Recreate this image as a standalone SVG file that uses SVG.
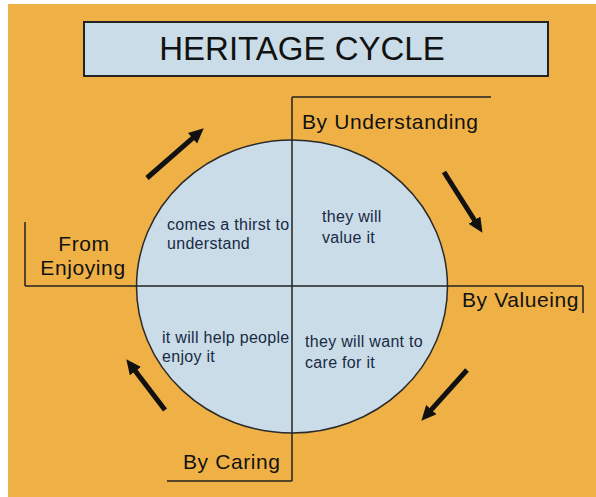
<svg xmlns="http://www.w3.org/2000/svg" width="596" height="497" viewBox="0 0 596 497">
  <defs>
    <style>
      .lbl { font-family: "Liberation Sans", Arial, sans-serif; font-size: 21px; fill: #111; letter-spacing: 0.6px; }
      .q { font-family: "Liberation Sans", Arial, sans-serif; font-size: 16px; fill: #1a2a44; letter-spacing: 0.3px; }
      .ttl { font-family: "Liberation Sans", Arial, sans-serif; font-size: 33px; fill: #111; }
      .ln { stroke: #222; stroke-width: 1.5; fill: none; }
      .arr { stroke: #111; stroke-width: 5; fill: none; marker-end: url(#ah); }
    </style>
    <marker id="ah" markerUnits="userSpaceOnUse" markerWidth="16" markerHeight="16" refX="4" refY="7" orient="auto">
      <path d="M0,0 L15,7 L0,14 z" fill="#111"/>
    </marker>
  </defs>
  <rect x="0" y="0" width="596" height="497" fill="#ffffff"/>
  <rect x="8" y="4" width="588" height="493" fill="#EFB145"/>

  <g id="title">
    <rect x="84" y="22" width="464" height="54" fill="#C9DCE8" stroke="#222" stroke-width="2"/>
    <text class="ttl" x="302" y="60" text-anchor="middle">HERITAGE CYCLE</text>
  </g>

  <g id="circle">
    <ellipse cx="292" cy="286.5" rx="155.5" ry="146.5" fill="#C9DCE8" stroke="#2a2a2a" stroke-width="1.5"/>
  </g>

  <g id="connectors">
    <line class="ln" x1="292" y1="97" x2="292" y2="481"/>
    <line class="ln" x1="292" y1="97" x2="491" y2="97"/>
    <line class="ln" x1="167" y1="481" x2="292" y2="481"/>
    <line class="ln" x1="25" y1="286" x2="583" y2="286"/>
    <line class="ln" x1="25" y1="222" x2="25" y2="286"/>
    <line class="ln" x1="583" y1="286" x2="583" y2="313"/>
    <line class="arr" x1="147" y1="178" x2="195.5" y2="135.6"/>
    <line class="arr" x1="444" y1="172" x2="476.6" y2="223.5"/>
    <line class="arr" x1="467" y1="370" x2="428.7" y2="412.6"/>
    <line class="arr" x1="165" y1="410" x2="133" y2="368"/>
  </g>

  <g id="by-understanding">
    <text class="lbl" x="302" y="129">By Understanding</text>
  </g>
  <g id="by-valueing">
    <text class="lbl" x="462" y="307">By Valueing</text>
  </g>
  <g id="by-caring">
    <text class="lbl" x="183" y="469">By Caring</text>
  </g>
  <g id="from-enjoying">
    <text class="lbl" x="84" y="251" text-anchor="middle">From</text>
    <text class="lbl" x="83" y="275" text-anchor="middle">Enjoying</text>
  </g>

  <g id="q-top-left">
    <text class="q" x="167" y="230">comes a thirst to</text>
    <text class="q" x="167" y="249">understand</text>
  </g>
  <g id="q-top-right">
    <text class="q" x="322" y="222">they will</text>
    <text class="q" x="322" y="243">value it</text>
  </g>
  <g id="q-bottom-left">
    <text class="q" x="162" y="343">it will help people</text>
    <text class="q" x="162" y="362">enjoy it</text>
  </g>
  <g id="q-bottom-right">
    <text class="q" x="305" y="347">they will want to</text>
    <text class="q" x="305" y="368">care for it</text>
  </g>
</svg>
